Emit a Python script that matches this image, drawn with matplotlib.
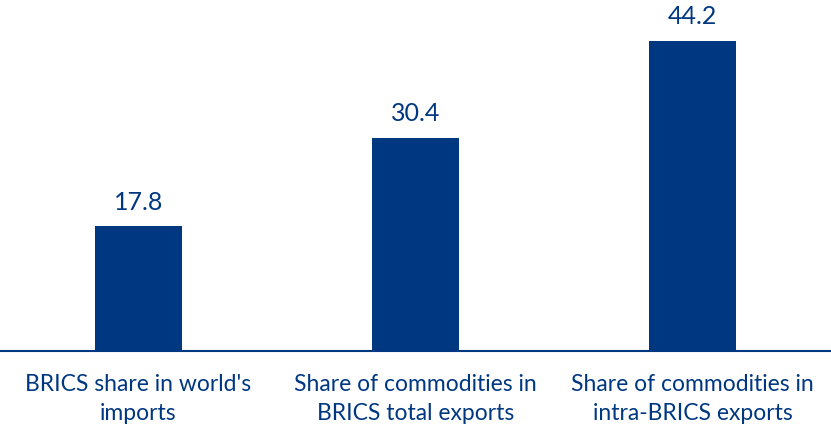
import matplotlib.pyplot as plt

# BRICS trade figures (%)
categories = ["BRICS share in world's\nimports",
              "Share of commodities in\nBRICS total exports",
              "Share of commodities in\nintra-BRICS exports"]
values = [17.8, 30.4, 44.2]

blue = '#003781'
plt.rcParams['font.family'] = ['Lato', 'DejaVu Sans']

fig = plt.figure(figsize=(8.31, 4.24), dpi=100)
ax = fig.add_axes([0, 73 / 424, 1, 351 / 424])

x = range(len(values))
ax.bar(x, values, width=0.314, color=blue)
for xi, v in zip(x, values):
    ax.annotate('{:.1f}'.format(v), (xi, v), xytext=(0, 9), textcoords='offset points',
                ha='center', va='bottom', fontsize=18, color=blue)

ax.set_xlim(-0.5, 2.5)
ax.set_ylim(0, 50)
ax.set_xticks(list(x))
ax.set_xticklabels(categories, fontsize=16.5, color=blue, linespacing=1.5)
ax.tick_params(axis='x', length=0, pad=16.5)
ax.set_yticks([])
for side in ['top', 'left', 'right']:
    ax.spines[side].set_visible(False)
ax.spines['bottom'].set_color(blue)
ax.spines['bottom'].set_linewidth(1.5)

fig.savefig('out.png', dpi=100)
